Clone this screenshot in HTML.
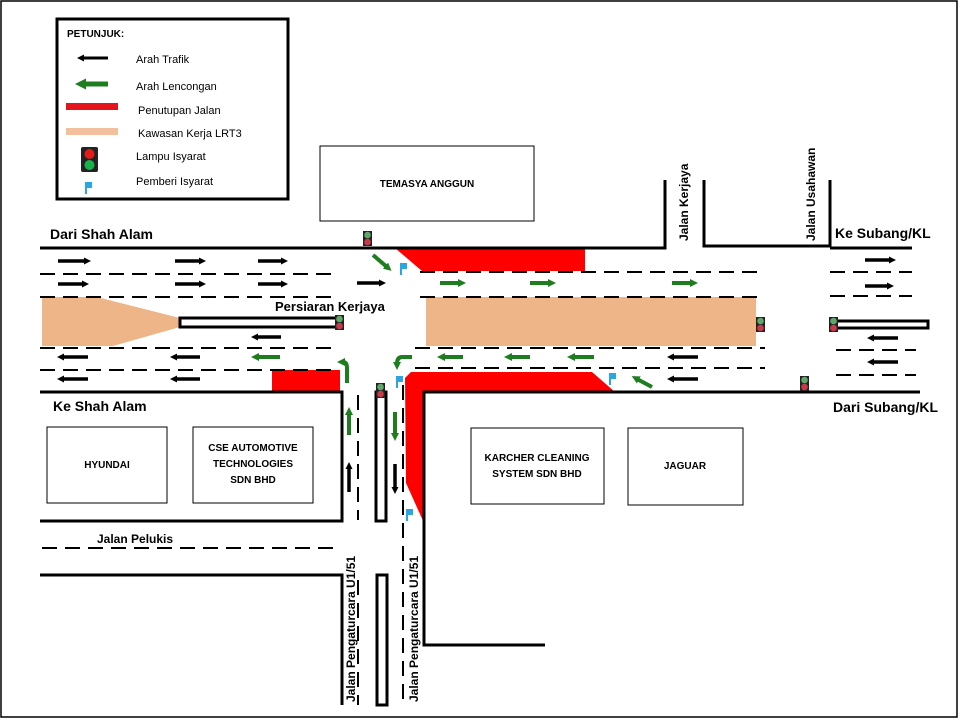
<!DOCTYPE html>
<html><head><meta charset="utf-8"><style>body{margin:0;background:#fff}svg{display:block}text{font-family:"Liberation Sans",sans-serif}</style></head><body>
<svg width="960" height="720" viewBox="0 0 960 720" xmlns="http://www.w3.org/2000/svg">
<defs>
<marker id="ab" markerUnits="userSpaceOnUse" markerWidth="7" markerHeight="7" refX="2" refY="3.5" orient="auto"><path d="M0,0L7,3.5L0,7z" fill="#000"/></marker>
<marker id="ag" markerUnits="userSpaceOnUse" markerWidth="8" markerHeight="8" refX="2" refY="4" orient="auto"><path d="M0,0L8,4L0,8z" fill="#1e7d1e"/></marker>
<marker id="agl" markerUnits="userSpaceOnUse" markerWidth="11" markerHeight="11" refX="2" refY="5.5" orient="auto"><path d="M0,0L11,5.5L0,11z" fill="#1e7d1e"/></marker>
<g id="tl"><rect x="-4" y="0" width="9" height="15" fill="#222"/><circle cx="0.5" cy="4" r="3.3" fill="#5fa86a"/><circle cx="0.5" cy="11" r="3.3" fill="#c83a4a"/></g>
<g id="fl"><path d="M0,0h7v6h-5v6h-2z" fill="#2aa7e0"/></g>
</defs>
<rect x="1" y="1" width="956" height="716" fill="none" stroke="#000" stroke-width="1.5"/>
<!-- legend -->
<rect x="57" y="19" width="231" height="180" fill="#fff" stroke="#000" stroke-width="3"/>
<text x="67" y="37" font-size="10" font-weight="bold">PETUNJUK:</text>
<line x1="108" y1="58" x2="82" y2="58" stroke="#000" stroke-width="3" marker-end="url(#ab)"/>
<text x="136" y="63" font-size="11">Arah Trafik</text>
<line x1="108" y1="84" x2="84" y2="84" stroke="#1e7d1e" stroke-width="5" marker-end="url(#agl)"/>
<text x="136" y="90" font-size="11">Arah Lencongan</text>
<rect x="66" y="103" width="52" height="7" fill="#e3141b"/>
<text x="138" y="114" font-size="11">Penutupan Jalan</text>
<rect x="66" y="128" width="52" height="7" fill="#f2c09c"/>
<text x="138" y="137" font-size="11">Kawasan Kerja LRT3</text>
<rect x="81" y="147" width="17" height="25" rx="2" fill="#222"/><circle cx="89.5" cy="154" r="5" fill="#e31b1b"/><circle cx="89.5" cy="165" r="5" fill="#19b24a"/>
<text x="136" y="160" font-size="11">Lampu Isyarat</text>
<use href="#fl" x="85" y="182"/>
<text x="136" y="185" font-size="11">Pemberi Isyarat</text>
<!-- temasya -->
<rect x="320" y="146" width="214" height="75" fill="#fff" stroke="#000" stroke-width="1"/>
<text x="427" y="187" font-size="10" font-weight="bold" text-anchor="middle">TEMASYA ANGGUN</text>
<!-- orange -->
<polygon points="42,297 97,297 180,318 180,327 113,346 42,346" fill="#eeb589"/>
<rect x="426" y="297" width="330" height="49" fill="#eeb589"/>
<!-- red -->
<polygon points="395,248 585,248 585,271 422,271" fill="#f00"/>
<rect x="272" y="370" width="68" height="22" fill="#f00"/>
<polygon points="405,378 411,372 592,372 615,392 424,392 424,523 406,483" fill="#f00"/>
<!-- road edges -->
<g stroke="#000" stroke-width="3" fill="none">
<path d="M40,248H665V180"/>
<path d="M704,180V246H830V180"/>
<path d="M830,248H912"/>
<path d="M40,392H342V521H40"/>
<path d="M40,575H342V705"/>
<path d="M920,392H424V645H545"/>
</g>
<!-- dashed -->
<g stroke="#000" stroke-width="2" stroke-dasharray="15,8" fill="none">
<path d="M40,274H335M40,297H335M40,348H335M40,370H335"/>
<path d="M420,272H765M420,297H765M415,348H765M415,368H765"/>
<path d="M830,272H912M830,296H912M836,350H916M836,375H916"/>
<path d="M358,395V520M358,580V705M403,385V705"/>
<path d="M42,548H340"/>
</g>
<!-- medians -->
<rect x="180" y="318" width="158" height="9" fill="#fff" stroke="#000" stroke-width="3"/>
<rect x="836" y="321" width="92" height="7" fill="#fff" stroke="#000" stroke-width="3"/>
<rect x="376" y="392" width="10" height="129" fill="#fff" stroke="#000" stroke-width="3"/>
<rect x="377" y="575" width="10" height="130" fill="#fff" stroke="#000" stroke-width="3"/>
<!-- black arrows -->
<g stroke="#000" stroke-width="3.5" marker-end="url(#ab)">
<line x1="58" y1="261" x2="86" y2="261"/><line x1="175" y1="261" x2="201" y2="261"/><line x1="258" y1="261" x2="283" y2="261"/>
<line x1="58" y1="284" x2="84" y2="284"/><line x1="175" y1="284" x2="201" y2="284"/><line x1="258" y1="284" x2="283" y2="284"/><line x1="357" y1="283" x2="381" y2="283"/>
<line x1="865" y1="260" x2="891" y2="260"/><line x1="865" y1="286" x2="889" y2="286"/>
<line x1="281" y1="337" x2="256" y2="337"/>
<line x1="88" y1="357" x2="62" y2="357"/><line x1="200" y1="357" x2="175" y2="357"/>
<line x1="88" y1="379" x2="62" y2="379"/><line x1="200" y1="379" x2="175" y2="379"/>
<line x1="698" y1="357" x2="672" y2="357"/><line x1="698" y1="379" x2="672" y2="379"/>
<line x1="898" y1="338" x2="872" y2="338"/><line x1="898" y1="362" x2="872" y2="362"/>
<line x1="349" y1="492" x2="349" y2="467"/><line x1="395" y1="464" x2="395" y2="489"/>
</g>
<!-- green arrows -->
<g stroke="#1e7d1e" stroke-width="4" fill="none" marker-end="url(#ag)">
<line x1="440" y1="283" x2="460" y2="283"/><line x1="530" y1="283" x2="550" y2="283"/><line x1="672" y1="283" x2="692" y2="283"/>
<line x1="280" y1="357" x2="257" y2="357"/><line x1="463" y1="357" x2="443" y2="357"/><line x1="530" y1="357" x2="510" y2="357"/><line x1="594" y1="357" x2="573" y2="357"/>
<line x1="373" y1="255" x2="387" y2="267"/>
<line x1="652" y1="387" x2="637" y2="379"/>
<line x1="349" y1="435" x2="349" y2="413"/><line x1="395" y1="412" x2="395" y2="435"/>
<path d="M347,383V368Q347,362 343,362"/>
<path d="M412,357H402Q397,357 397,364"/>
</g>
<!-- lights & flags -->
<use href="#tl" x="367" y="231"/><use href="#tl" x="339" y="315"/><use href="#tl" x="380" y="383"/>
<use href="#tl" x="760" y="317"/><use href="#tl" x="833" y="317"/><use href="#tl" x="804" y="376"/>
<use href="#fl" x="400" y="263"/><use href="#fl" x="396" y="376"/><use href="#fl" x="609" y="373"/><use href="#fl" x="406" y="509"/>
<!-- labels -->
<g font-weight="bold">
<text x="50" y="239" font-size="14">Dari Shah Alam</text>
<text x="53" y="411" font-size="14">Ke Shah Alam</text>
<text x="275" y="311" font-size="13">Persiaran Kerjaya</text>
<text x="835" y="238" font-size="14">Ke Subang/KL</text>
<text x="833" y="412" font-size="14">Dari Subang/KL</text>
<text x="97" y="543" font-size="12">Jalan Pelukis</text>
<text font-size="12" transform="translate(688,241) rotate(-90)">Jalan Kerjaya</text>
<text font-size="12" transform="translate(815,241) rotate(-90)">Jalan Usahawan</text>
<text font-size="12" transform="translate(355,702) rotate(-90)">Jalan Pengaturcara U1/51</text>
<text font-size="12" transform="translate(418,702) rotate(-90)">Jalan Pengaturcara U1/51</text>
</g>
<!-- buildings -->
<g fill="#fff" stroke="#000" stroke-width="1">
<rect x="47" y="427" width="120" height="76"/><rect x="193" y="427" width="120" height="76"/>
<rect x="471" y="428" width="133" height="76"/><rect x="628" y="428" width="115" height="77"/>
</g>
<g font-size="10" font-weight="bold" text-anchor="middle">
<text x="107" y="468">HYUNDAI</text>
<text x="253" y="451">CSE AUTOMOTIVE</text><text x="253" y="467">TECHNOLOGIES</text><text x="253" y="483">SDN BHD</text>
<text x="537" y="461">KARCHER CLEANING</text><text x="537" y="477">SYSTEM SDN BHD</text>
<text x="685" y="469">JAGUAR</text>
</g>
</svg>
</body></html>
